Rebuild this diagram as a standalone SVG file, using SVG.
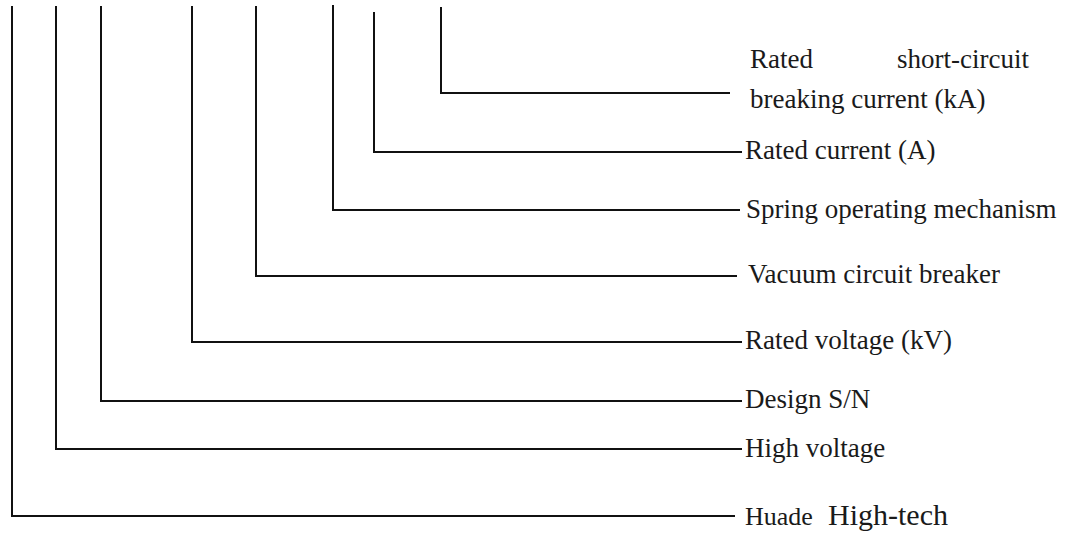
<svg xmlns="http://www.w3.org/2000/svg" width="1067" height="533" viewBox="0 0 1067 533">
<style>
.c{fill:none;stroke:#111;stroke-width:2;stroke-linejoin:miter}
.t{font-family:"Liberation Serif","Times New Roman",serif;font-size:27px;fill:#1a1a1a}
.s{font-size:26px}
.b{font-size:30px}
</style>
<rect width="1067" height="533" fill="#fff"/>
<g id="connectors">
<polyline class="c" points="12,6 12,516 735,516"/>
<polyline class="c" points="56,6 56,449 742,449"/>
<polyline class="c" points="101,6 101,401 742,401"/>
<polyline class="c" points="192,6 192,342 742,342"/>
<polyline class="c" points="256,6 256,276 737,276"/>
<polyline class="c" points="333,5 333,210 740,210"/>
<polyline class="c" points="374,12 374,152 742,152"/>
<polyline class="c" points="441,7 441,93 730,93"/>
</g>
<g id="n-shortcircuit">
<text class="t" x="750" y="68">Rated</text>
<text class="t" x="897" y="68">short-circuit</text>
<text class="t" x="750" y="108">breaking current (kA)</text>
</g>
<g id="n-current"><text class="t" x="745" y="159">Rated current (A)</text></g>
<g id="n-spring"><text class="t" x="746" y="218">Spring operating mechanism</text></g>
<g id="n-vacuum"><text class="t" x="748" y="283">Vacuum circuit breaker</text></g>
<g id="n-voltage"><text class="t" x="745" y="349">Rated voltage (kV)</text></g>
<g id="n-design"><text class="t" x="745" y="408">Design S/N</text></g>
<g id="n-high"><text class="t" x="745" y="457">High voltage</text></g>
<g id="n-huade">
<text class="t s" x="745" y="525">Huade</text>
<text class="t b" x="828" y="525">High-tech</text>
</g>
</svg>
